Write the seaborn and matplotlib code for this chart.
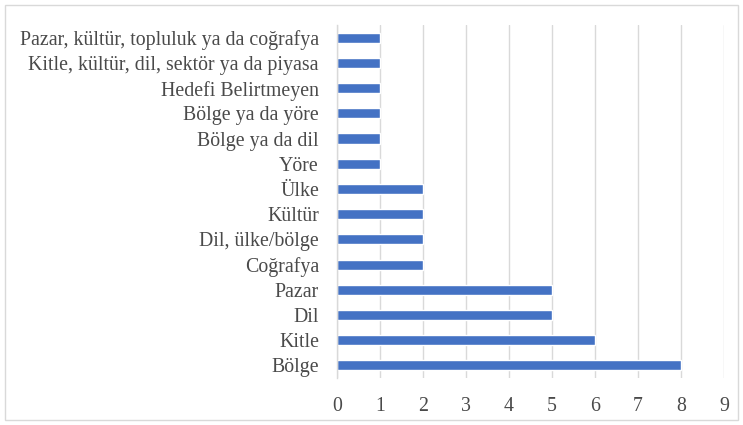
import matplotlib
matplotlib.use("Agg")
import matplotlib.pyplot as plt
import seaborn as sns
import pandas as pd
from matplotlib.patches import Rectangle

categories = ["Pazar, kültür, topluluk ya da coğrafya",
              "Kitle, kültür, dil, sektör ya da piyasa",
              "Hedefi Belirtmeyen",
              "Bölge ya da yöre",
              "Bölge ya da dil",
              "Yöre",
              "Ülke",
              "Kültür",
              "Dil, ülke/bölge",
              "Coğrafya",
              "Pazar",
              "Dil",
              "Kitle",
              "Bölge"]
values = [1, 1, 1, 1, 1, 1, 2, 2, 2, 2, 5, 5, 6, 8]
x_ticks = list(range(0, 10))

df = pd.DataFrame({"kategori": categories, "deger": values})

sns.set_theme(style="white")
plt.rcParams['font.family'] = ['Liberation Serif', 'DejaVu Serif']

fig = plt.figure(figsize=(7.43, 4.25), dpi=100)
ax = fig.add_axes([0.4536, 0.1106, 0.5208, 0.8304])

sns.barplot(data=df, x="deger", y="kategori", orient="h", color="#4472C4",
            saturation=1, width=0.4, ax=ax, order=categories)

ax.set_xlim(0, 9)
ax.set_xticks(x_ticks)
ax.set_ylim(13.5, -0.5)
ax.grid(axis="x", color="#d9d9d9", linewidth=1)
ax.set_axisbelow(True)
for s in ["top", "right", "bottom"]:
    ax.spines[s].set_visible(False)
ax.spines["left"].set_color("#d9d9d9")
ax.spines["left"].set_linewidth(1)
ax.set_xlabel("")
ax.set_ylabel("")
ax.tick_params(axis="both", length=0, labelsize=14.3, colors="#4a4a4a")
ax.tick_params(axis="x", pad=14)
ax.tick_params(axis="y", pad=13)

fig.patches.append(Rectangle((0.007, 0.012), 0.986, 0.976, transform=fig.transFigure,
                             fill=False, edgecolor="#d9d9d9", linewidth=1))

fig.savefig("out.png", dpi=100)
